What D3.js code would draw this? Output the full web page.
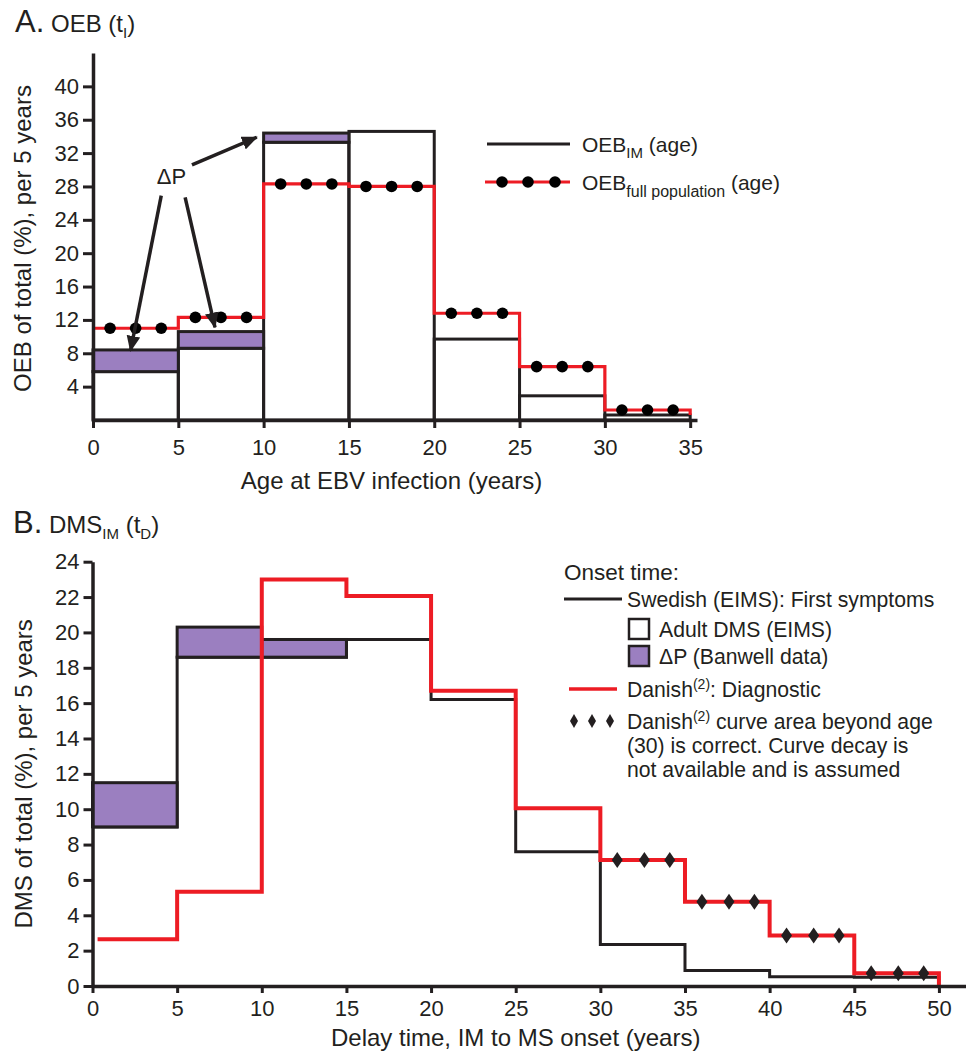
<!DOCTYPE html>
<html>
<head>
<meta charset="utf-8">
<script src="https://cdn.jsdelivr.net/npm/d3@7"></script>
<style>
body { margin: 0; background: #fff; }
svg text { font-family: "Liberation Sans", Arial, sans-serif; fill: #231f20; }
</style>
</head>
<body>
<svg id="chart"></svg>
<script>
// ---- panel A: OEB by age at EBV infection (5-year bins)
const ageEdges = [0, 5, 10, 15, 20, 25, 30, 35];
const oebIM = [5.8, 8.6, 33.3, 34.6, 9.7, 2.9, 0.6];
const oebDeltaP = [2.6, 2.0, 1.1, 0, 0, 0, 0];
const oebFull = [11.0, 12.3, 28.3, 28.0, 12.8, 6.4, 1.2];
const dotOffsets = [1.0, 2.5, 4.0];
const ageTicks = [0, 5, 10, 15, 20, 25, 30, 35];
const oebTicks = [4, 8, 12, 16, 20, 24, 28, 32, 36, 40];
// ΔP label and arrows, in data units [x1, y1, x2, y2]
const deltaLabel = [4.6, 29.2];
const deltaArrows = [[5.8, 30.6, 9.6, 33.9], [4.0, 26.9, 2.2, 8.3], [5.4, 26.7, 7.15, 11.1]];

// ---- panel B: DMS by delay time, IM to MS onset
const delayEdges = [0, 5, 10, 15, 20, 25, 30, 35, 40, 45, 50];
const dmsAdult = [9.0, 18.6, 18.6, 19.6, 16.2, 7.6, 2.35, 0.87, 0.53, 0.5];
const dmsDeltaP = [2.5, 1.7, 1.0, 0, 0, 0, 0, 0, 0, 0];
const danish = [2.64, 5.33, 23.0, 22.06, 16.7, 10.05, 7.13, 4.77, 2.85, 0.72];
const danishStart = 0.3;
const diamondBins = [6, 7, 8, 9];
const diamondOffsets = [1.0, 2.6, 4.1];
const delayTicks = [0, 5, 10, 15, 20, 25, 30, 35, 40, 45, 50];
const dmsTicks = [0, 2, 4, 6, 8, 10, 12, 14, 16, 18, 20, 22, 24];

const style = ({
    black: "#231f20",
    red: "#ed1c24",
    purple: "#9b7fc0",
    axisWidth: 3.5,
    barWidth: 3,
    tickFont: "22px",
    titleFont: "24px"
});

const W = 966, H = 1056;
const svg = d3.select("#chart")
    .attr("width", W)
    .attr("height", H)
    .attr("viewBox", [0, 0, W, H]);

svg.append("defs").append("marker")
    .attr("id", "arrow")
    .attr("markerUnits", "userSpaceOnUse")
    .attr("viewBox", "0 -6 14 12")
    .attr("refX", 13)
    .attr("refY", 0)
    .attr("markerWidth", 16)
    .attr("markerHeight", 14)
    .attr("orient", "auto")
    .append("path")
    .attr("d", "M0,-6L14,0L0,6Z")
    .attr("fill", style.black);

const steps = (edges, vals) => vals.flatMap((v, i) => [[edges[i], v], [edges[i + 1], v]]);

function styleAxis(g) {
    g.select(".domain").attr("stroke", style.black).attr("stroke-width", style.axisWidth);
    g.selectAll(".tick line").attr("stroke", style.black).attr("stroke-width", 3);
    g.selectAll(".tick text").style("font-size", style.tickFont).attr("fill", style.black);
}

// ================= PANEL A =================
const xA = d3.scaleLinear().domain([0, 35.4]).range([93, 697]);
const yA = d3.scaleLinear().domain([0, 44]).range([420, 53]);
const gA = svg.append("g");

// bars: adult IM outline
gA.selectAll("rect.im")
    .data(oebIM)
    .join("rect")
    .attr("class", "im")
    .attr("x", (d, i) => xA(ageEdges[i]))
    .attr("width", (d, i) => xA(ageEdges[i + 1]) - xA(ageEdges[i]))
    .attr("y", d => yA(d))
    .attr("height", d => yA(0) - yA(d))
    .attr("fill", "none")
    .attr("stroke", style.black)
    .attr("stroke-width", style.barWidth);

gA.selectAll("rect.dp")
    .data(oebDeltaP.map((d, i) => ({i, lo: oebIM[i], hi: oebIM[i] + d})).filter(d => d.hi > d.lo))
    .join("rect")
    .attr("class", "dp")
    .attr("x", d => xA(ageEdges[d.i]))
    .attr("width", d => xA(ageEdges[d.i + 1]) - xA(ageEdges[d.i]))
    .attr("y", d => yA(d.hi))
    .attr("height", d => yA(d.lo) - yA(d.hi))
    .attr("fill", style.purple)
    .attr("stroke", style.black)
    .attr("stroke-width", style.barWidth);

const lineA = d3.line().x(d => xA(d[0])).y(d => yA(d[1]));
gA.append("path")
    .datum(steps(ageEdges, oebFull).concat([[35, oebIM[oebIM.length - 1]]]))
    .attr("d", lineA)
    .attr("fill", "none")
    .attr("stroke", style.red)
    .attr("stroke-width", 3.2);

gA.selectAll("circle.full")
    .data(oebFull.flatMap((v, i) => dotOffsets.map(o => ({x: ageEdges[i] + o, y: v}))))
    .join("circle")
    .attr("class", "full")
    .attr("cx", d => xA(d.x))
    .attr("cy", d => yA(d.y))
    .attr("r", 5.8)
    .attr("fill", "#000");

// axes
gA.append("g")
    .attr("transform", `translate(0,${yA(0)})`)
    .call(d3.axisBottom(xA).tickValues(ageTicks).tickSize(8).tickSizeOuter(0).tickPadding(11))
    .call(styleAxis);
gA.append("g")
    .attr("transform", `translate(${xA(0)},0)`)
    .call(d3.axisLeft(yA).tickValues(oebTicks).tickSize(10).tickSizeOuter(0).tickPadding(4))
    .call(styleAxis);

// ΔP annotation
gA.append("text")
    .attr("x", xA(deltaLabel[0]))
    .attr("y", yA(deltaLabel[1]))
    .attr("text-anchor", "middle")
    .attr("dy", "0.35em")
    .style("font-size", "22px")
    .text("ΔP");
gA.selectAll("line.arrow")
    .data(deltaArrows)
    .join("line")
    .attr("class", "arrow")
    .attr("x1", d => xA(d[0])).attr("y1", d => yA(d[1]))
    .attr("x2", d => xA(d[2])).attr("y2", d => yA(d[3]))
    .attr("stroke", style.black)
    .attr("stroke-width", 3.5)
    .attr("marker-end", "url(#arrow)");

// titles A
const tA = svg.append("text").attr("x", 15).attr("y", 32);
tA.append("tspan").style("font-size", "31px").text("A.");
tA.append("tspan").style("font-size", "24px").text(" OEB (t");
tA.append("tspan").style("font-size", "15px").attr("dy", 6).text("I");
tA.append("tspan").style("font-size", "24px").attr("dy", -6).text(")");

svg.append("text")
    .attr("transform", `translate(31,${(yA(0) + yA(44)) / 2 + 2}) rotate(-90)`)
    .attr("text-anchor", "middle")
    .style("font-size", style.titleFont)
    .text("OEB of total (%), per 5 years");
svg.append("text")
    .attr("x", (xA(0) + xA(35)) / 2)
    .attr("y", 489)
    .attr("text-anchor", "middle")
    .style("font-size", style.titleFont)
    .text("Age at EBV infection (years)");

// legend A
const legA = svg.append("g");
legA.append("line").attr("x1", 487).attr("x2", 570).attr("y1", 144).attr("y2", 144)
    .attr("stroke", style.black).attr("stroke-width", 3);
legA.append("line").attr("x1", 485).attr("x2", 570).attr("y1", 182).attr("y2", 182)
    .attr("stroke", style.red).attr("stroke-width", 3.2);
legA.selectAll("circle").data([502, 528, 555]).join("circle")
    .attr("cx", d => d).attr("cy", 182).attr("r", 5.8).attr("fill", "#000");
const la1 = legA.append("text").attr("x", 582).attr("y", 152).style("font-size", "21px");
la1.append("tspan").text("OEB");
la1.append("tspan").style("font-size", "15px").attr("dy", 6).text("IM");
la1.append("tspan").attr("dy", -6).text(" (age)");
const la2 = legA.append("text").attr("x", 582).attr("y", 190).style("font-size", "21px");
la2.append("tspan").text("OEB");
la2.append("tspan").style("font-size", "16px").attr("dy", 7).text("full population");
la2.append("tspan").attr("dy", -7).text(" (age)");

// ================= PANEL B =================
const xB = d3.scaleLinear().domain([0, 51.6]).range([92.5, 966]);
const yB = d3.scaleLinear().domain([0, 24]).range([986, 561.7]);
const gB = svg.append("g");
const lineB = d3.line().x(d => xB(d[0])).y(d => yB(d[1]));

gB.append("path")
    .datum(steps(delayEdges, dmsAdult).concat([[50, 0]]))
    .attr("d", lineB)
    .attr("fill", "none")
    .attr("stroke", style.black)
    .attr("stroke-width", style.barWidth);

gB.selectAll("rect.dp")
    .data(dmsDeltaP.map((d, i) => ({i, lo: dmsAdult[i], hi: dmsAdult[i] + d})).filter(d => d.hi > d.lo))
    .join("rect")
    .attr("class", "dp")
    .attr("x", d => xB(delayEdges[d.i]))
    .attr("width", d => xB(delayEdges[d.i + 1]) - xB(delayEdges[d.i]))
    .attr("y", d => yB(d.hi))
    .attr("height", d => yB(d.lo) - yB(d.hi))
    .attr("fill", style.purple)
    .attr("stroke", style.black)
    .attr("stroke-width", style.barWidth);

const danishPts = steps(delayEdges, danish).concat([[50, 0]]);
danishPts[0] = [danishStart, danish[0]];
gB.append("path")
    .datum(danishPts)
    .attr("d", lineB)
    .attr("fill", "none")
    .attr("stroke", style.red)
    .attr("stroke-width", 4);

gB.selectAll("path.diamond")
    .data(diamondBins.flatMap(i => diamondOffsets.map(o => ({x: delayEdges[i] + o, y: danish[i]}))))
    .join("path")
    .attr("class", "diamond")
    .attr("transform", d => `translate(${xB(d.x)},${yB(d.y)})`)
    .attr("d", "M0,-8L5.5,0L0,8L-5.5,0Z")
    .attr("fill", style.black);

gB.append("g")
    .attr("transform", `translate(0,${yB(0)})`)
    .call(d3.axisBottom(xB).tickValues(delayTicks).tickSize(7).tickSizeOuter(0).tickPadding(7))
    .call(styleAxis);
gB.append("g")
    .attr("transform", `translate(${xB(0)},0)`)
    .call(d3.axisLeft(yB).tickValues(dmsTicks).tickSize(9).tickSizeOuter(0).tickPadding(4))
    .call(styleAxis);

const tB = svg.append("text").attr("x", 13).attr("y", 533);
tB.append("tspan").style("font-size", "31px").text("B.");
tB.append("tspan").style("font-size", "24px").text(" DMS");
tB.append("tspan").style("font-size", "15px").attr("dy", 6).text("IM");
tB.append("tspan").style("font-size", "24px").attr("dy", -6).text(" (t");
tB.append("tspan").style("font-size", "15px").attr("dy", 6).text("D");
tB.append("tspan").style("font-size", "24px").attr("dy", -6).text(")");

svg.append("text")
    .attr("transform", `translate(32,${(yB(0) + yB(24)) / 2}) rotate(-90)`)
    .attr("text-anchor", "middle")
    .style("font-size", style.titleFont)
    .text("DMS of total (%), per 5 years");
svg.append("text")
    .attr("x", (xB(0) + xB(50)) / 2)
    .attr("y", 1046)
    .attr("text-anchor", "middle")
    .style("font-size", style.titleFont)
    .text("Delay time, IM to MS onset (years)");

// legend B
const legB = svg.append("g").style("font-size", "21.2px");
legB.append("text").attr("x", 564).attr("y", 580).style("font-size", "22.5px").text("Onset time:");
legB.append("line").attr("x1", 564).attr("x2", 622).attr("y1", 599).attr("y2", 599)
    .attr("stroke", style.black).attr("stroke-width", 3);
legB.append("text").attr("x", 627).attr("y", 607).text("Swedish (EIMS): First symptoms");
legB.append("rect").attr("x", 629).attr("y", 619).attr("width", 20).attr("height", 20)
    .attr("fill", "#fff").attr("stroke", style.black).attr("stroke-width", 2.5);
legB.append("text").attr("x", 659).attr("y", 637).text("Adult DMS (EIMS)");
legB.append("rect").attr("x", 629).attr("y", 646).attr("width", 20).attr("height", 20)
    .attr("fill", style.purple).attr("stroke", style.black).attr("stroke-width", 2.5);
legB.append("text").attr("x", 659).attr("y", 664).text("ΔP (Banwell data)");
legB.append("line").attr("x1", 569).attr("x2", 617).attr("y1", 689).attr("y2", 689)
    .attr("stroke", style.red).attr("stroke-width", 3.5);
const lb1 = legB.append("text").attr("x", 627).attr("y", 697);
lb1.append("tspan").text("Danish");
lb1.append("tspan").style("font-size", "14px").attr("dy", -8).text("(2)");
lb1.append("tspan").attr("dy", 8).text(": Diagnostic");
legB.selectAll("path.ld").data([574, 592, 610]).join("path")
    .attr("class", "ld")
    .attr("transform", d => `translate(${d},721)`)
    .attr("d", "M0,-7L4,0L0,7L-4,0Z")
    .attr("fill", style.black);
const lb2 = legB.append("text").attr("x", 627).attr("y", 729);
lb2.append("tspan").text("Danish");
lb2.append("tspan").style("font-size", "14px").attr("dy", -8).text("(2)");
lb2.append("tspan").attr("dy", 8).text(" curve area beyond age");
legB.append("text").attr("x", 627).attr("y", 753).text("(30) is correct. Curve decay is");
legB.append("text").attr("x", 627).attr("y", 777).text("not available and is assumed");
</script>
</body>
</html>
